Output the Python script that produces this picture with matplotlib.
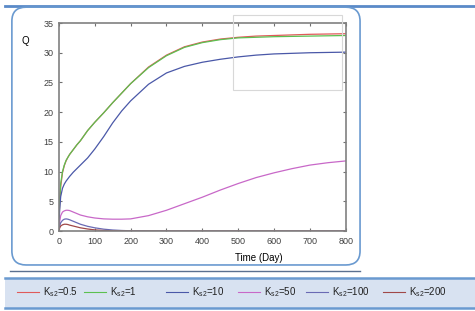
import numpy as np
import matplotlib
matplotlib.use('Agg')
import matplotlib.pyplot as plt
from matplotlib.patches import FancyBboxPatch, Rectangle
from matplotlib.lines import Line2D

plt.rcParams['font.family'] = ['Liberation Sans', 'DejaVu Sans']

# time points (days)
t = [0, 2, 5, 10, 15, 20, 25, 30, 40, 50, 60, 80, 100, 125, 150, 175, 200,
     250, 300, 350, 400, 450, 500, 550, 600, 650, 700, 750, 800]

q_05 = [0, 4.5, 7.5, 9.8, 11.0, 11.8, 12.4, 12.9, 13.7, 14.5, 15.2, 16.9, 18.3,
        19.9, 21.6, 23.2, 24.8, 27.6, 29.6, 31.0, 31.8, 32.3, 32.6, 32.8, 32.9,
        33.0, 33.1, 33.15, 33.2]
q_1 = [0, 5.0, 8.0, 10.0, 11.1, 11.9, 12.4, 12.9, 13.7, 14.5, 15.2, 16.9, 18.3,
       19.9, 21.6, 23.2, 24.8, 27.5, 29.5, 30.9, 31.7, 32.2, 32.5, 32.6, 32.7,
       32.75, 32.8, 32.85, 32.9]
q_10 = [0, 3.5, 5.8, 7.2, 7.9, 8.4, 8.8, 9.2, 9.9, 10.5, 11.1, 12.3, 13.8, 15.9,
        18.2, 20.2, 21.9, 24.7, 26.6, 27.7, 28.4, 28.9, 29.3, 29.6, 29.8, 29.9,
        30.0, 30.05, 30.1]
q_50 = [0, 1.5, 2.6, 3.2, 3.4, 3.5, 3.5, 3.45, 3.2, 2.95, 2.7, 2.4, 2.2, 2.05,
        2.0, 2.0, 2.05, 2.6, 3.5, 4.6, 5.7, 6.9, 8.0, 9.0, 9.8, 10.5, 11.1, 11.5,
        11.8]
q_100 = [0, 0.8, 1.4, 1.8, 2.0, 2.05, 2.0, 1.9, 1.65, 1.4, 1.15, 0.8, 0.55, 0.32,
         0.18, 0.1, 0.05, 0.01, 0, 0, 0, 0, 0, 0, 0, 0, 0, 0, 0]
q_200 = [0, 0.5, 0.85, 1.05, 1.15, 1.15, 1.1, 1.0, 0.85, 0.7, 0.55, 0.35, 0.2,
         0.1, 0.05, 0.02, 0, 0, 0, 0, 0, 0, 0, 0, 0, 0, 0, 0, 0]

labels = ['0.5', '1', '10', '50', '100', '200']
colors = ['#e05a5a', '#5cc050', '#4a58a8', '#c868c8', '#6a6ab4', '#a04848']
series = [q_05, q_1, q_10, q_50, q_100, q_200]

fig = plt.figure(figsize=(4.75, 3.11), dpi=100)

# decorations around the chart
fig.add_artist(Line2D([0.01, 1.0], [0.981, 0.981], color='#5a8ac8', lw=2,
                      zorder=-2))
fig.add_artist(FancyBboxPatch((0.025, 0.148), 0.733, 0.829,
                              boxstyle='round,pad=0,rounding_size=0.03',
                              fc='white', ec='#6a9ad0', lw=1.2,
                              mutation_aspect=1.5, zorder=-1))
fig.add_artist(Line2D([0.02, 0.758], [0.129, 0.129], color='#5a7090', lw=1))
fig.add_artist(Rectangle((0.01, 0.01), 0.99, 0.096, fc='#d8e2f1', ec='none'))
fig.add_artist(Line2D([0.01, 1.0], [0.106, 0.106], color='#6a9ad0', lw=1.8))
fig.add_artist(Line2D([0.01, 1.0], [0.01, 0.01], color='#6a9ad0', lw=1.8))

ax = fig.add_axes([0.124, 0.257, 0.604, 0.669])
ax.set_zorder(2)
ax.patch.set_alpha(0)
lines = []
for q, c in zip(series, colors):
    ln, = ax.plot(t, q, color=c, lw=0.9)
    lines.append(ln)

ax.set_xlim(0, 800)
ax.set_ylim(0, 35)
ax.set_xticks(range(0, 801, 100))
ax.set_yticks(range(0, 36, 5))
ax.tick_params(direction='in', top=True, right=True, length=2.5,
               color='#707070', labelsize=6.5, pad=4, labelcolor='#404040')
for sp in ax.spines.values():
    sp.set_color('#808080')
    sp.set_linewidth(1.2)

# faint inset frame
fig.add_artist(Rectangle((0.49, 0.711), 0.23, 0.241, fc='none',
                         ec='#d8d8d8', lw=0.8, zorder=3))

fig.text(0.053, 0.868, 'Q', fontsize=7, ha='center', va='center')
fig.text(0.545, 0.170, 'Time (Day)', fontsize=7, ha='center', va='center')

# legend strip: each key placed by hand like the original layout
key_x = [17, 84, 166, 238, 306, 383]
for ln, lab, x0 in zip(lines, labels, key_x):
    fig.add_artist(Line2D([x0 / 475, (x0 + 22) / 475], [0.06, 0.06],
                          color=ln.get_color(), lw=0.8))
    fig.text((x0 + 26) / 475, 0.06, r'K$_{\mathregular{s2}}$=' + lab,
             fontsize=7, ha='left', va='center', color='#202020')

fig.savefig('out.png', dpi=100)
